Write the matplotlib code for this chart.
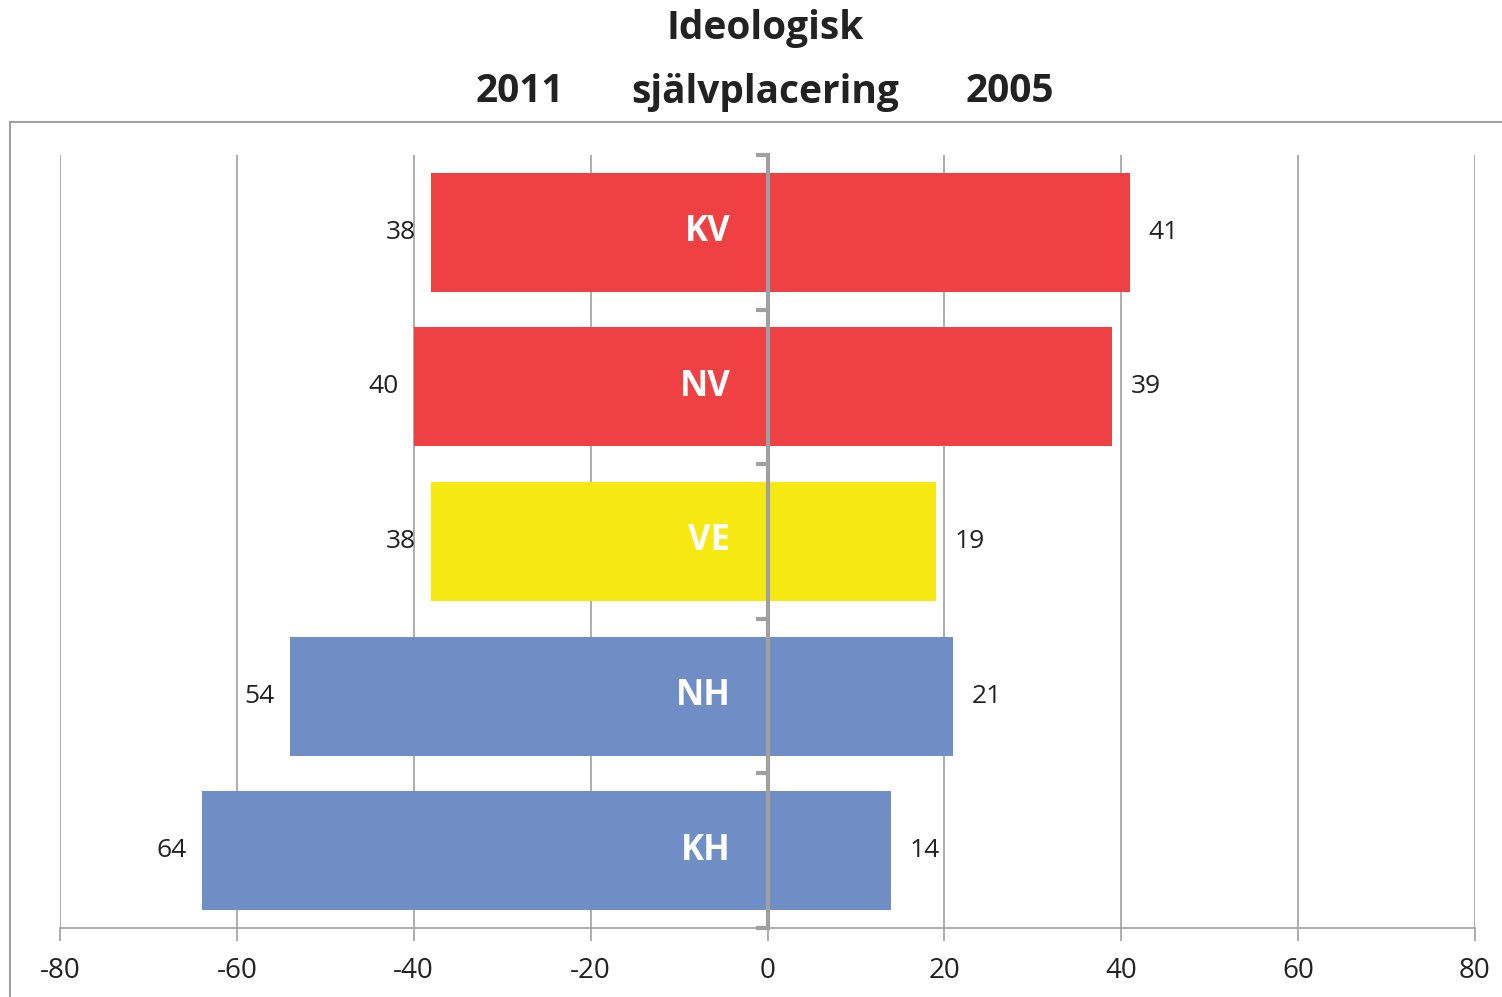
import matplotlib.pyplot as plt
from matplotlib.patches import Rectangle

# Data
categories = ["KV", "NV", "VE", "NH", "KH"]
values_2011 = [38, 40, 38, 54, 64]
values_2005 = [41, 39, 19, 21, 14]
bar_colors = ["#EF4043", "#EF4043", "#F5E911", "#6F8EC5", "#6F8EC5"]
xticks = [-80, -60, -40, -20, 0, 20, 40, 60, 80]

plt.rcParams['font.family'] = ['Open Sans', 'DejaVu Sans']

fig = plt.figure(figsize=(15.02, 9.97), dpi=100)
ax = fig.add_axes([60 / 1502, 1 - 928 / 997, 1415 / 1502, 773 / 997])

grey = "#A0A0A0"
ypos = range(len(categories))

ax.barh(ypos, [-v for v in values_2011], height=0.77, color=bar_colors, zorder=2)
ax.barh(ypos, values_2005, height=0.77, color=bar_colors, zorder=2)

for y, cat, v_left, v_right in zip(ypos, categories, values_2011, values_2005):
    ax.text(-v_left - 1.7, y, str(v_left), ha='right', va='center', fontsize=19, color='#222222')
    ax.text(v_right + 2.1, y, str(v_right), ha='left', va='center', fontsize=19, color='#222222')
    ax.text(-4.2, y, cat, ha='right', va='center', fontsize=25, fontweight='bold', color='white', zorder=3)

ax.set_xlim(-80, 80)
ax.set_ylim(4.5, -0.5)
ax.set_xticks(xticks)
ax.set_xticklabels([str(t) for t in xticks], fontsize=20, color='#222222')
ax.tick_params(axis='x', direction='out', length=9, color=grey, width=1.2, pad=12)
ax.xaxis.grid(True, color=grey, linewidth=1.2, zorder=0)
ax.set_axisbelow(True)

# centre axis at x = 0 with category divider ticks
ax.spines['left'].set_position(('data', 0))
ax.spines['left'].set_color(grey)
ax.spines['left'].set_linewidth(3)
ax.spines['left'].set_zorder(4)
ax.set_yticks([i - 0.5 for i in range(len(categories) + 1)])
ax.set_yticklabels([])
ax.tick_params(axis='y', direction='out', length=9, width=3, color=grey)
ax.spines['right'].set_visible(False)
ax.spines['top'].set_visible(False)
ax.spines['bottom'].set_color(grey)
ax.spines['bottom'].set_linewidth(1.2)

# outer frame
fig.patches.append(Rectangle((10 / 1502, -0.05), 1.2, 0.05 + 1 - 122 / 997, transform=fig.transFigure,
                             fill=False, edgecolor=grey, linewidth=1.5, clip_on=False))

# titles
title_kw = dict(ha='center', va='center', fontsize=28, fontweight='bold', color='#222222')
fig.text(765 / 1502, 1 - 28 / 997, "Ideologisk", **title_kw)
fig.text(520 / 1502, 1 - 92 / 997, "2011", **title_kw)
fig.text(765 / 1502, 1 - 92 / 997, "självplacering", **title_kw)
fig.text(1010 / 1502, 1 - 92 / 997, "2005", **title_kw)

fig.savefig("out.png", dpi=100)
